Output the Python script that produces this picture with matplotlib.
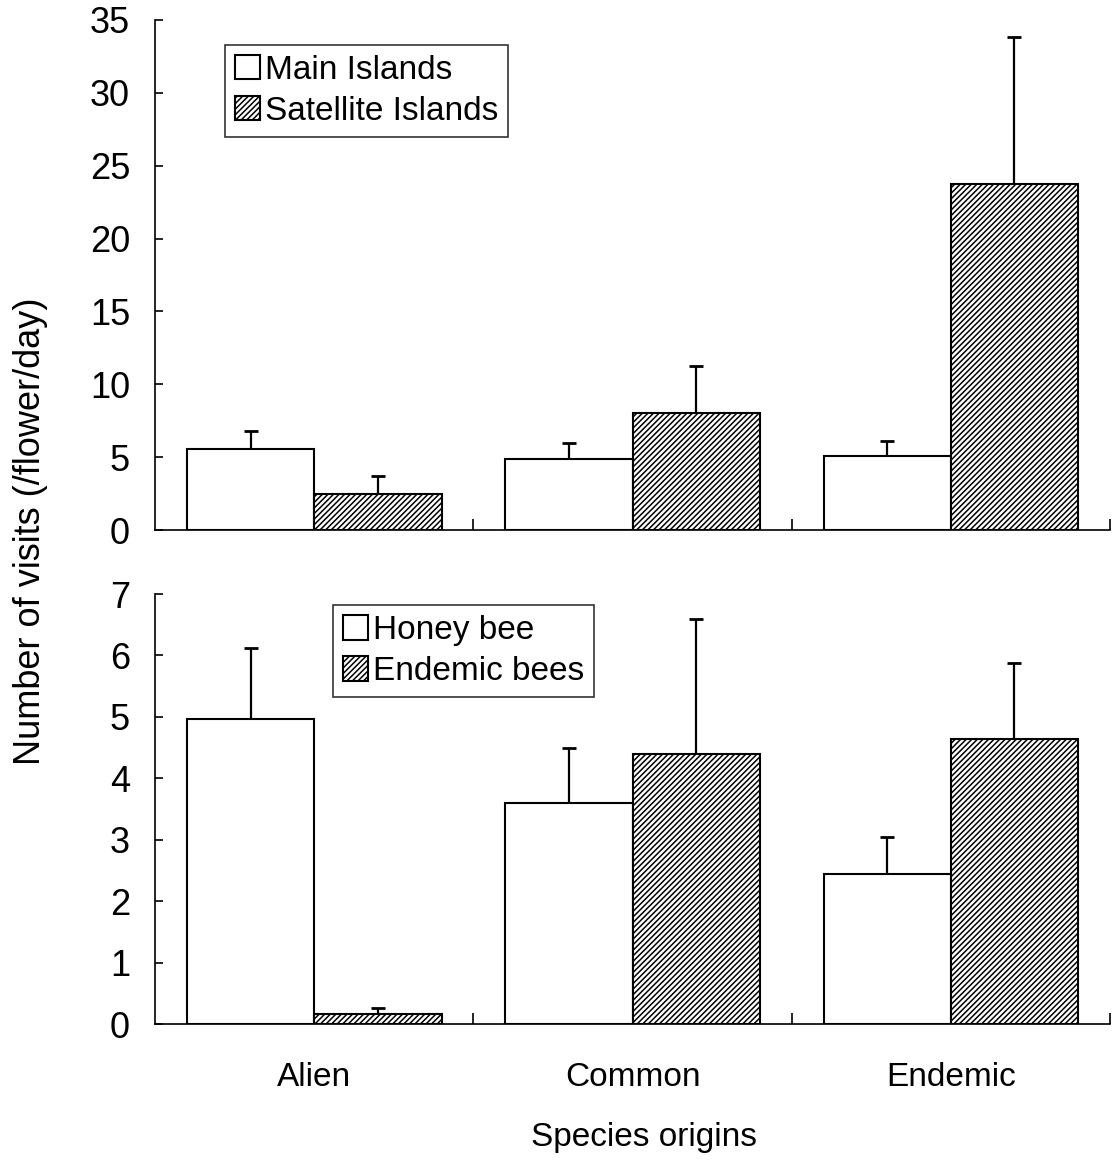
import matplotlib
matplotlib.use('Agg')
from matplotlib import pylab as plt
import numpy as np

plt.rcParams['font.family'] = ['Liberation Sans', 'DejaVu Sans']
plt.rcParams['hatch.linewidth'] = 1.1

categories = ['Alien', 'Common', 'Endemic']

# top panel: islands
main_islands = [5.56, 4.87, 5.08]
main_islands_err = [1.24, 1.10, 1.02]
satellite_islands = [2.47, 8.03, 23.75]
satellite_islands_err = [1.23, 3.23, 10.05]

# bottom panel: bees
honey_bee = [4.96, 3.60, 2.44]
honey_bee_err = [1.16, 0.89, 0.60]
endemic_bees = [0.16, 4.40, 4.64]
endemic_bees_err = [0.10, 2.20, 1.24]

top_ticks = [0, 5, 10, 15, 20, 25, 30, 35]
bottom_ticks = [0, 1, 2, 3, 4, 5, 6, 7]


def panel(ax, a, a_err, b, b_err, names, yticks, show_labels):
    x = np.arange(len(categories))
    w = 0.4
    h1 = ax.bar(x - w / 2, a, w, color='white', edgecolor='black',
                linewidth=1.5, label=names[0], zorder=2)
    h2 = ax.bar(x + w / 2, b, w, color='white', edgecolor='black',
                linewidth=1.5, hatch='//////', label=names[1], zorder=2)
    ax.errorbar(x - w / 2, a, yerr=[np.zeros(len(a)), a_err], fmt='none',
                ecolor='black', elinewidth=1.6, capsize=5, capthick=2, zorder=1)
    ax.errorbar(x + w / 2, b, yerr=[np.zeros(len(b)), b_err], fmt='none',
                ecolor='black', elinewidth=1.6, capsize=5, capthick=2, zorder=1)
    ax.set_xlim(-0.5, 2.5)
    ax.set_ylim(yticks[0], yticks[-1])
    ax.set_yticks(yticks)
    ax.spines['top'].set_visible(False)
    ax.spines['right'].set_visible(False)
    ax.spines['left'].set_linewidth(1.2)
    ax.spines['bottom'].set_linewidth(1.2)
    ax.tick_params(axis='y', direction='in', length=6, width=1.2,
                   labelsize=26, pad=18)
    ax.set_xticks(x)
    ax.set_xticks([0.5, 1.5, 2.5], minor=True)
    ax.tick_params(axis='x', which='major', length=0, labelsize=24, pad=27)
    ax.tick_params(axis='x', which='minor', direction='in', length=8, width=1.2)
    if show_labels:
        ax.set_xticklabels(categories)
    else:
        ax.set_xticklabels([])
    return h1, h2


fig = plt.figure(figsize=(11.12, 11.6), dpi=100)
ax1 = fig.add_axes([0.1394, 0.5431, 0.8588, 0.4397])
ax2 = fig.add_axes([0.1394, 0.1172, 0.8588, 0.3707])

panel(ax1, main_islands, main_islands_err, satellite_islands,
      satellite_islands_err, ['Main Islands', 'Satellite Islands'], top_ticks, False)
panel(ax2, honey_bee, honey_bee_err, endemic_bees, endemic_bees_err,
      ['Honey bee', 'Endemic bees'], bottom_ticks, True)

for ax, loc in [(ax1, (0.073, 0.771)), (ax2, (0.186, 0.76))]:
    leg = ax.legend(loc='lower left', bbox_to_anchor=loc, fontsize=24,
                    frameon=True, fancybox=False, edgecolor='black',
                    handlelength=0.75, handleheight=0.75, handletextpad=0.15,
                    borderpad=0.3, labelspacing=0.3, borderaxespad=0)
    leg.get_frame().set_linewidth(1.2)

fig.text(0.5795, 0.0198, 'Species origins', fontsize=24,
         ha='center', va='center')
fig.text(0.027, 0.542, 'Number of visits (/flower/day)', rotation=90,
         fontsize=26, ha='center', va='center')

plt.savefig('out.png', dpi=100)
